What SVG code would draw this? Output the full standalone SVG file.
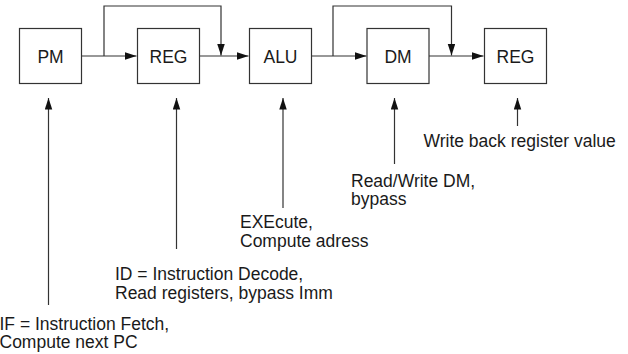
<svg xmlns="http://www.w3.org/2000/svg" width="628" height="354" viewBox="0 0 628 354">
<style>
.box{fill:#fff;stroke:#333;stroke-width:1.2}
.lbl{font-family:"Liberation Sans",Arial,sans-serif;font-size:17.5px;fill:#1a1a1a}
.c{text-anchor:middle}
.ln{fill:none;stroke:#333;stroke-width:1.2}
</style>
<defs>
<marker id="ah" markerUnits="userSpaceOnUse" markerWidth="12" markerHeight="8" refX="11.5" refY="3.75" orient="auto">
<path d="M0,0 L11.5,3.75 L0,7.5 z" fill="#111"/>
</marker>
</defs>
<g id="connectors">
<path class="ln" d="M81.5,56 H136.5" marker-end="url(#ah)"/>
<path class="ln" d="M104,56 V6 H221 V55.5" marker-end="url(#ah)"/>
<path class="ln" d="M199.5,56 H248.5" marker-end="url(#ah)"/>
<path class="ln" d="M311,56 H366.5" marker-end="url(#ah)"/>
<path class="ln" d="M333,56 V6 H451.5 V55.5" marker-end="url(#ah)"/>
<path class="ln" d="M428.5,56 H483.5" marker-end="url(#ah)"/>
<path class="ln" d="M48.5,305 V98" marker-end="url(#ah)"/>
<path class="ln" d="M176.5,249 V98" marker-end="url(#ah)"/>
<path class="ln" d="M283,208 V98" marker-end="url(#ah)"/>
<path class="ln" d="M394.5,164 V98" marker-end="url(#ah)"/>
<path class="ln" d="M517.5,126 V98" marker-end="url(#ah)"/>
</g>
<g id="PM"><rect class="box" x="19.5" y="28.5" width="62" height="55"/><text class="lbl c" x="50.5" y="62.5">PM</text></g>
<g id="REG1"><rect class="box" x="137.5" y="28.5" width="62" height="55"/><text class="lbl c" x="168.5" y="62.5">REG</text></g>
<g id="ALU"><rect class="box" x="249.5" y="28.5" width="62" height="55"/><text class="lbl c" x="280.5" y="62.5">ALU</text></g>
<g id="DM"><rect class="box" x="367" y="28.5" width="62" height="55"/><text class="lbl c" x="398" y="62.5">DM</text></g>
<g id="REG2"><rect class="box" x="484.5" y="28.5" width="62" height="55"/><text class="lbl c" x="515.5" y="62.5">REG</text></g>
<g id="label-wb"><text class="lbl" x="423.5" y="147">Write back register value</text></g>
<g id="label-dm"><text class="lbl" x="351" y="186.5">Read/Write DM,</text><text class="lbl" x="351" y="205">bypass</text></g>
<g id="label-ex"><text class="lbl" x="240" y="228">EXEcute,</text><text class="lbl" x="240" y="246.7">Compute adress</text></g>
<g id="label-id"><text class="lbl" x="115" y="280">ID = Instruction Decode,</text><text class="lbl" x="115" y="299">Read registers, bypass Imm</text></g>
<g id="label-if"><text class="lbl" x="-0.5" y="329.5">IF = Instruction Fetch,</text><text class="lbl" x="-0.5" y="347.5">Compute next PC</text></g>
</svg>
